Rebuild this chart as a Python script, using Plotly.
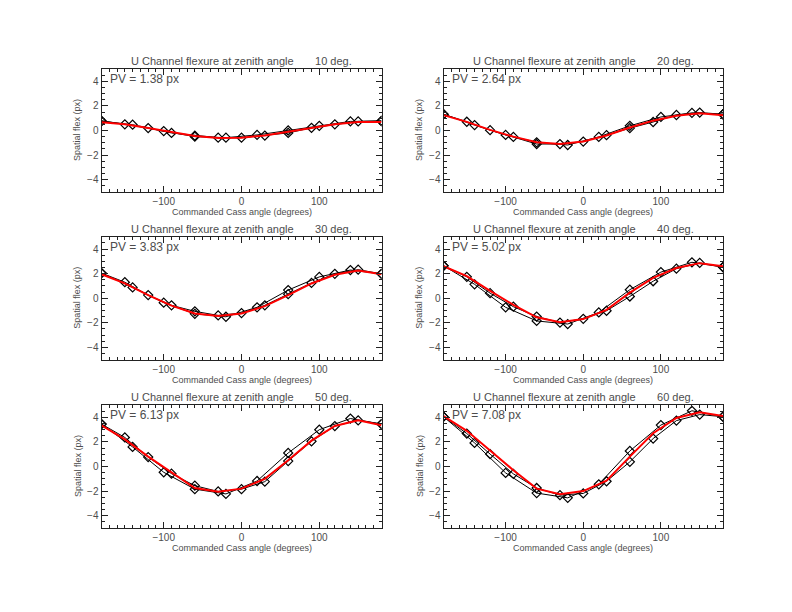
import plotly.graph_objects as go

# commanded Cass angles for the two sweeps and the red fit
angle_a = [-180, -150, -120, -90, -60, -30, 0, 30, 60, 90, 120, 150, 180]
angle_b = [-180, -140, -100, -60, -20, 20, 60, 100, 140, 180]
angle_fit = [-180, -150, -120, -90, -60, -30, 0, 30, 60, 90, 120, 150, 180]

zenith = [10, 20, 30, 40, 50, 60]
pv = ["1.38", "2.64", "3.83", "5.02", "6.13", "7.08"]

flex_a = [
    [0.80, 0.50, 0.20, -0.20, -0.42, -0.58, -0.58, -0.41, -0.20, 0.22, 0.50, 0.74, 0.80],
    [1.32, 0.71, 0.03, -0.52, -1.10, -1.10, -0.90, -0.38, 0.19, 0.69, 1.26, 1.46, 1.32],
    [2.04, 1.30, 0.25, -0.58, -1.07, -1.40, -1.21, -0.58, 0.33, 1.24, 1.98, 2.32, 1.98],
    [2.64, 1.74, 0.41, -0.69, -1.49, -1.98, -1.68, -1.02, 0.14, 1.38, 2.40, 2.87, 2.53],
    [3.45, 2.36, 0.77, -0.58, -1.56, -2.03, -1.84, -1.23, 0.44, 2.05, 3.29, 3.75, 3.45],
    [4.05, 2.68, 1.01, -0.60, -1.75, -2.33, -2.19, -1.20, 0.38, 2.27, 3.73, 4.22, 4.05],
]
flex_b = [
    [0.75, 0.47, -0.05, -0.50, -0.58, -0.36, 0.00, 0.38, 0.74, 0.75],
    [1.32, 0.44, -0.36, -0.96, -1.18, -0.52, 0.38, 1.10, 1.43, 1.32],
    [2.04, 0.88, -0.36, -1.27, -1.51, -0.74, 0.66, 1.73, 2.29, 1.98],
    [2.64, 1.13, -0.74, -1.85, -2.10, -1.16, 0.69, 2.12, 2.92, 2.53],
    [3.45, 1.59, -0.47, -1.84, -2.23, -1.18, 1.10, 2.99, 3.90, 3.45],
    [4.05, 1.92, -0.52, -2.16, -2.55, -1.45, 1.26, 3.37, 4.53, 4.05],
]
flex_fit = [
    [0.68, 0.50, 0.20, -0.15, -0.45, -0.60, -0.58, -0.40, -0.10, 0.25, 0.50, 0.70, 0.70],
    [1.25, 0.70, 0.05, -0.50, -0.95, -1.10, -0.90, -0.40, 0.25, 0.80, 1.20, 1.40, 1.25],
    [1.95, 1.20, 0.25, -0.60, -1.25, -1.45, -1.25, -0.65, 0.25, 1.20, 1.90, 2.25, 1.95],
    [2.60, 1.80, 0.60, -0.55, -1.55, -1.95, -1.70, -0.95, 0.45, 1.65, 2.45, 2.85, 2.60],
    [3.35, 2.20, 0.80, -0.50, -1.75, -2.05, -1.80, -1.00, 0.50, 2.10, 3.30, 3.75, 3.35],
    [4.10, 2.90, 1.30, -0.30, -1.80, -2.25, -2.00, -1.15, 0.80, 2.70, 3.95, 4.40, 4.10],
]

W, H = 792, 612
OFF = 8  # page body margin in the browser
col_x = [(101.5, 381.5), (443.5, 723.0)]
row_y = [(69.0, 192.0), (236.7, 359.7), (405.0, 528.0)]


def px(x):
    return (x - OFF) / W


def py(y):
    return 1 - (y - OFF) / H


font = "Liberation Sans, Arial, sans-serif"
txt = "#4d4d4d"
frame = "#222222"

fig = go.Figure()
annotations = []


def label(text, x, y, size, xanchor="center", angle=0):
    annotations.append(dict(text=text, x=px(x), y=py(y), xref="paper", yref="paper",
                            xanchor=xanchor, yanchor="middle", showarrow=False, textangle=angle,
                            font=dict(family=font, size=size, color=txt)))


for i in range(6):
    r, c = divmod(i, 2)
    n = "" if i == 0 else str(i + 1)
    xa, ya = "x" + n, "y" + n
    x0, x1 = col_x[c]
    y0, y1 = row_y[r]

    for xs, ys in ((angle_a, flex_a[i]), (angle_b, flex_b[i])):
        fig.add_trace(go.Scatter(x=xs, y=ys, mode="lines+markers", xaxis=xa, yaxis=ya,
                                 line=dict(color="black", width=1),
                                 marker=dict(symbol="diamond-open", size=7, color="black",
                                             line=dict(width=1.2))))
    fig.add_trace(go.Scatter(x=angle_fit, y=flex_fit[i], mode="lines", xaxis=xa, yaxis=ya,
                             line=dict(color="#ff0000", width=2)))

    axis_common = dict(showgrid=False, zeroline=False, showline=True, linecolor=frame, linewidth=1,
                       mirror="allticks", ticks="inside", ticklen=6, tickcolor=frame,
                       tickfont=dict(family=font, size=10, color=txt))
    fig.layout["xaxis" + n] = dict(axis_common, domain=[px(x0), px(x1)], anchor=ya,
                                   range=[-180, 180], tick0=0, dtick=100,
                                   minor=dict(dtick=10, ticklen=3, ticks="inside", tickcolor=frame))
    fig.layout["yaxis" + n] = dict(axis_common, domain=[py(y1), py(y0)], anchor=xa,
                                   range=[-5, 5], tick0=0, dtick=2,
                                   minor=dict(dtick=0.5, ticklen=3, ticks="inside", tickcolor=frame))

    xc = (x0 + x1) / 2
    label("U Channel flexure at zenith angle" + "\u00a0" * 7 + f"{zenith[i]} deg.", xc, y0 - 8, 11)
    label(f"PV = {pv[i]} px", x0 + 6, y0 + 10, 12, xanchor="left")
    label("Commanded Cass angle (degrees)", xc, y1 + 20, 9)
    label("Spatial flex (px)", x0 - 24, (y0 + y1) / 2, 9, angle=-90)

fig.update_layout(width=W, height=H, margin=dict(l=0, r=0, t=0, b=0),
                  paper_bgcolor="white", plot_bgcolor="white", showlegend=False,
                  annotations=annotations)

fig.write_html("out.html")
